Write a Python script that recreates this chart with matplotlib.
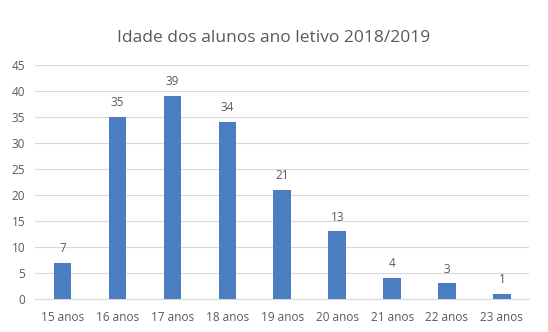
import matplotlib
matplotlib.use("Agg")
import matplotlib.pyplot as plt

categories = ["15 anos", "16 anos", "17 anos", "18 anos", "19 anos", "20 anos", "21 anos", "22 anos", "23 anos"]
values = [7, 35, 39, 34, 21, 13, 4, 3, 1]
yticks = [0, 5, 10, 15, 20, 25, 30, 35, 40, 45]
title = "Idade dos alunos ano letivo 2018/2019"

plt.rcParams['font.family'] = ['Open Sans', 'DejaVu Sans']
text_color = "#595959"

fig = plt.figure(figsize=(5.48, 3.32), dpi=100)
ax = fig.add_axes([0.064, 0.0994, 0.902, 0.705])
x = list(range(len(categories)))
ax.bar(x, values, width=0.32, color="#4A7EC0", zorder=3)
for xi, v in zip(x, values):
    ax.text(xi, v + 1.5, str(v), ha="center", va="bottom", fontsize=8.5, color=text_color)

ax.set_xlim(-0.5, len(categories) - 0.5)
ax.set_ylim(0, 45)
ax.set_yticks(yticks)
ax.set_xticks(x)
ax.set_xticklabels(categories)
ax.tick_params(axis='both', length=0, labelsize=8.5, colors=text_color)
ax.tick_params(axis='x', pad=9)
ax.tick_params(axis='y', pad=7)
ax.grid(axis='y', color="#D9D9D9", linewidth=0.8, zorder=0)
for s in ["top", "right", "left"]:
    ax.spines[s].set_visible(False)
ax.spines["bottom"].set_color("#D9D9D9")
ax.spines["bottom"].set_linewidth(0.8)

fig.text(0.5, 0.885, title, ha="center", va="center", fontsize=12.5, color=text_color)
fig.savefig("out.png", dpi=100)
